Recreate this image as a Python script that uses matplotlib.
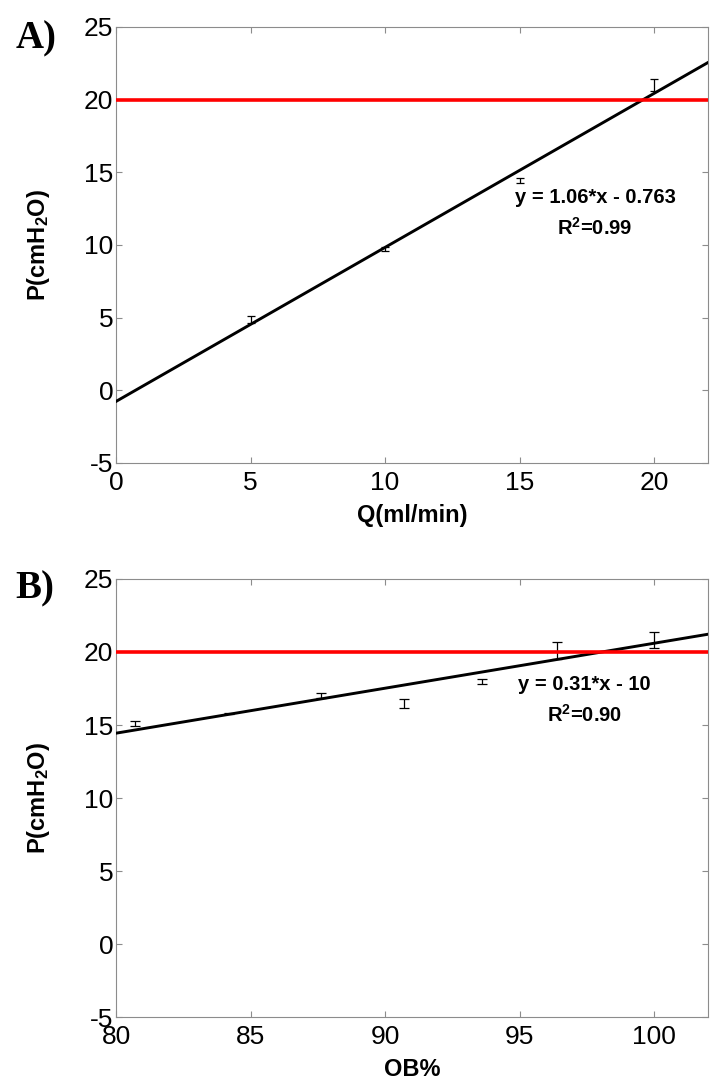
import matplotlib
matplotlib.use("Agg")
import matplotlib.pyplot as plt
import numpy as np

plt.rcParams['font.family'] = ['Liberation Sans', 'DejaVu Sans']
plt.rcParams['axes.unicode_minus'] = False
plt.rcParams['mathtext.fontset'] = 'custom'
plt.rcParams['mathtext.rm'] = 'Liberation Sans:bold'
plt.rcParams['mathtext.bf'] = 'Liberation Sans:bold'
plt.rcParams['mathtext.it'] = 'Liberation Sans:bold'

# ---------------- data: panel A ----------------
a_x = [5, 10, 15, 20]
a_mean = [4.85, 9.75, 14.45, 21.0]
a_err = [0.25, 0.13, 0.15, 0.4]
a_fit = [1.06, -0.763]          # slope, intercept
a_xlim = [0, 22]
a_xticks = [0, 5, 10, 15, 20]
a_text = ["y = 1.06*x - 0.763", "R$^2$=0.99"]

# ---------------- data: panel B ----------------
b_x = [80.7, 84.2, 87.6, 90.7, 93.6, 96.4, 100.0]
b_mean = [15.1, 15.8, 17.03, 16.48, 17.98, 20.1, 20.85]
b_err = [0.15, 0.05, 0.17, 0.32, 0.18, 0.6, 0.55]
b_fit = [0.308, -10.2]
b_xlim = [80, 102]
b_xticks = [80, 85, 90, 95, 100]
b_text = ["y = 0.31*x - 10", "R$^2$=0.90"]

threshold = 20
ylim = [-5, 25]
yticks = [-5, 0, 5, 10, 15, 20, 25]

fig = plt.figure(figsize=(7.14, 10.8), dpi=100)
grey = '#8c8c8c'

def panel(rect, xs, means, errs, fit, xlim, xticks, texts, text_pos, xlabel, letter, letter_pos, capsize):
    ax = fig.add_axes(rect)
    xx = np.linspace(xlim[0], xlim[1], 50)
    ax.plot(xx, fit[0] * xx + fit[1], color='black', lw=2.1, zorder=3)
    ax.errorbar(xs, means, yerr=errs, fmt='none', ecolor='black', elinewidth=0.9,
                capsize=capsize, capthick=0.9, zorder=2)
    ax.axhline(threshold, color='#ff0000', lw=2.6, zorder=4)
    ax.set_xlim(xlim)
    ax.set_ylim(ylim)
    ax.set_xticks(xticks)
    ax.set_yticks(yticks)
    for s in ax.spines.values():
        s.set_color(grey)
        s.set_linewidth(0.8)
    ax.tick_params(direction='in', length=4.5, width=0.8, color=grey,
                   top=True, right=True, labelsize=19)
    ax.tick_params(axis='x', pad=6)
    ax.tick_params(axis='y', pad=2)
    ax.set_xlabel(xlabel, fontsize=17, fontweight='bold')
    ax.set_ylabel(r"P(cmH$_2$O)", fontsize=17, fontweight='bold')
    ax.yaxis.set_label_coords(-0.108, 0.5)
    ax.xaxis.set_label_coords(0.5, -0.094)
    ax.text(text_pos[0], text_pos[1], texts[0], fontsize=14.5, fontweight='bold',
            ha='center', va='center')
    ax.text(text_pos[0], text_pos[2], texts[1], fontsize=14.5, fontweight='bold',
            ha='center', va='center')
    fig.text(letter_pos[0], letter_pos[1], letter, family='Liberation Serif',
             fontweight='bold', fontsize=28, ha='center', va='center')
    return ax

panel([0.1625, 0.5713, 0.8291, 0.4037], a_x, a_mean, a_err, a_fit, a_xlim, a_xticks,
      a_text, (17.8, 13.3, 11.2), "Q(ml/min)", "A)", (0.050, 0.964), 2.9)
panel([0.1625, 0.0583, 0.8291, 0.4056], b_x, b_mean, b_err, b_fit, b_xlim, b_xticks,
      b_text, (97.4, 17.8, 15.7), "OB%", "B)", (0.049, 0.455), 3.7)

fig.savefig("out.png", dpi=100)
